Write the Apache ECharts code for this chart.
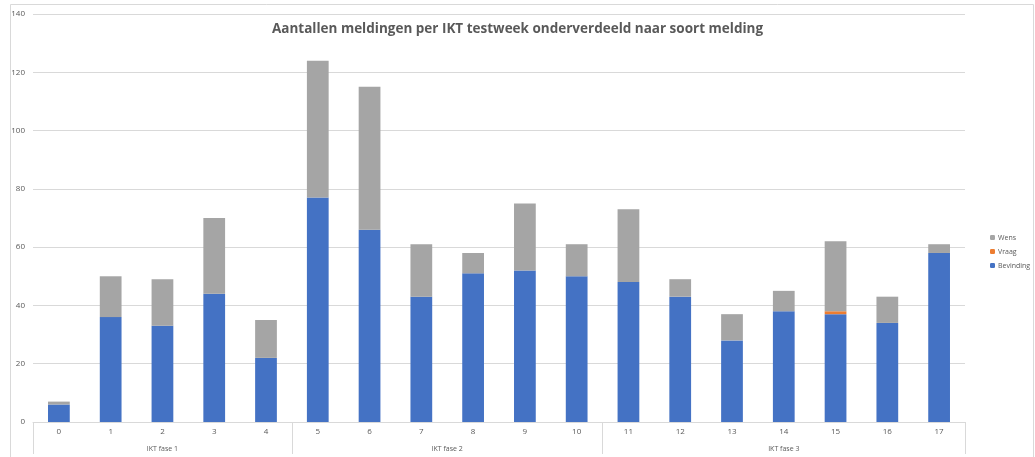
<!DOCTYPE html>
<html><head><meta charset="utf-8">
<script src="https://cdn.jsdelivr.net/npm/echarts@6/dist/echarts.min.js"></script>
<style>html,body{margin:0;padding:0;background:#fff}#c{width:1035px;height:457px}</style>
</head><body><div id="c"></div>
<script>
const weeks = ['0','1','2','3','4','5','6','7','8','9','10','11','12','13','14','15','16','17'];
const bevinding = [6,36,33,44,22,77,66,43,51,52,50,48,43,28,38,37,34,58];
const vraag     = [0,0,0,0,0,0,0,0,0,0,0,0,0,0,0,1,0,0];
const wens      = [1,14,16,26,13,47,49,18,7,23,11,25,6,9,7,24,9,3];
const groups = ['IKT fase 1','IKT fase 2','IKT fase 3'];
const groupSizes = [5,6,7];
const yTicks = {min:0, max:140, interval:20};

// build half-step group axis: 2*N+1 points
const nHalf = weeks.length*2;
const groupData = new Array(nHalf+1).fill('');
const tickIdx = [0]; const labelIdx = [];
let acc = 0;
groups.forEach((g,i)=>{
  const start = acc*2, end = (acc+groupSizes[i])*2;
  const mid = (start+end)/2;
  groupData[mid] = g; labelIdx.push(mid); tickIdx.push(end);
  acc += groupSizes[i];
});

const grey = '#595959', line = '#d9d9d9';
const chart = echarts.init(document.getElementById('c'));
chart.setOption({
  animation:false,
  title:{text:'Aantallen meldingen per IKT testweek onderverdeeld naar soort melding',
    left:'center', top:17, textStyle:{fontFamily:'Open Sans', fontSize:13.5, fontWeight:'bold', color:grey}},
  legend:{orient:'vertical', left:985, top:229, itemWidth:5, itemHeight:5, itemGap:7,
    data:['Wens','Vraag','Bevinding'],
    textStyle:{fontFamily:'Open Sans', fontSize:7, color:grey, padding:[0,0,0,-2]}},
  grid:{left:33, right:70, top:14, bottom:35, containLabel:false},
  xAxis:[
    {type:'category', data:weeks, axisLine:{lineStyle:{color:line}}, axisTick:{show:false},
     axisLabel:{fontFamily:'Open Sans', fontSize:8, color:grey, margin:6}},
    {type:'category', data:groupData, position:'bottom', boundaryGap:false,
     axisLine:{show:false},
     axisTick:{show:true, length:32, lineStyle:{color:line}, interval:(i)=>tickIdx.includes(i)},
     axisLabel:{fontFamily:'Open Sans', fontSize:7, color:grey, margin:23, interval:(i)=>labelIdx.includes(i)}}
  ],
  yAxis:{type:'value', min:yTicks.min, max:yTicks.max, interval:yTicks.interval,
    axisLine:{show:false}, axisTick:{show:false},
    splitLine:{lineStyle:{color:line}},
    axisLabel:{fontFamily:'Open Sans', fontSize:8, color:grey, margin:8}},
  series:[
    {name:'Bevinding', type:'bar', stack:'a', data:bevinding, barWidth:'42%', itemStyle:{color:'#4472C4'}},
    {name:'Vraag', type:'bar', stack:'a', data:vraag, itemStyle:{color:'#ED7D31'}},
    {name:'Wens', type:'bar', stack:'a', data:wens, itemStyle:{color:'#A5A5A5'}}
  ],
  graphic:[{type:'rect', shape:{x:10.5,y:4.5,width:1023,height:470}, style:{fill:null, stroke:line, lineWidth:1}, silent:true}]
});
</script></body></html>
